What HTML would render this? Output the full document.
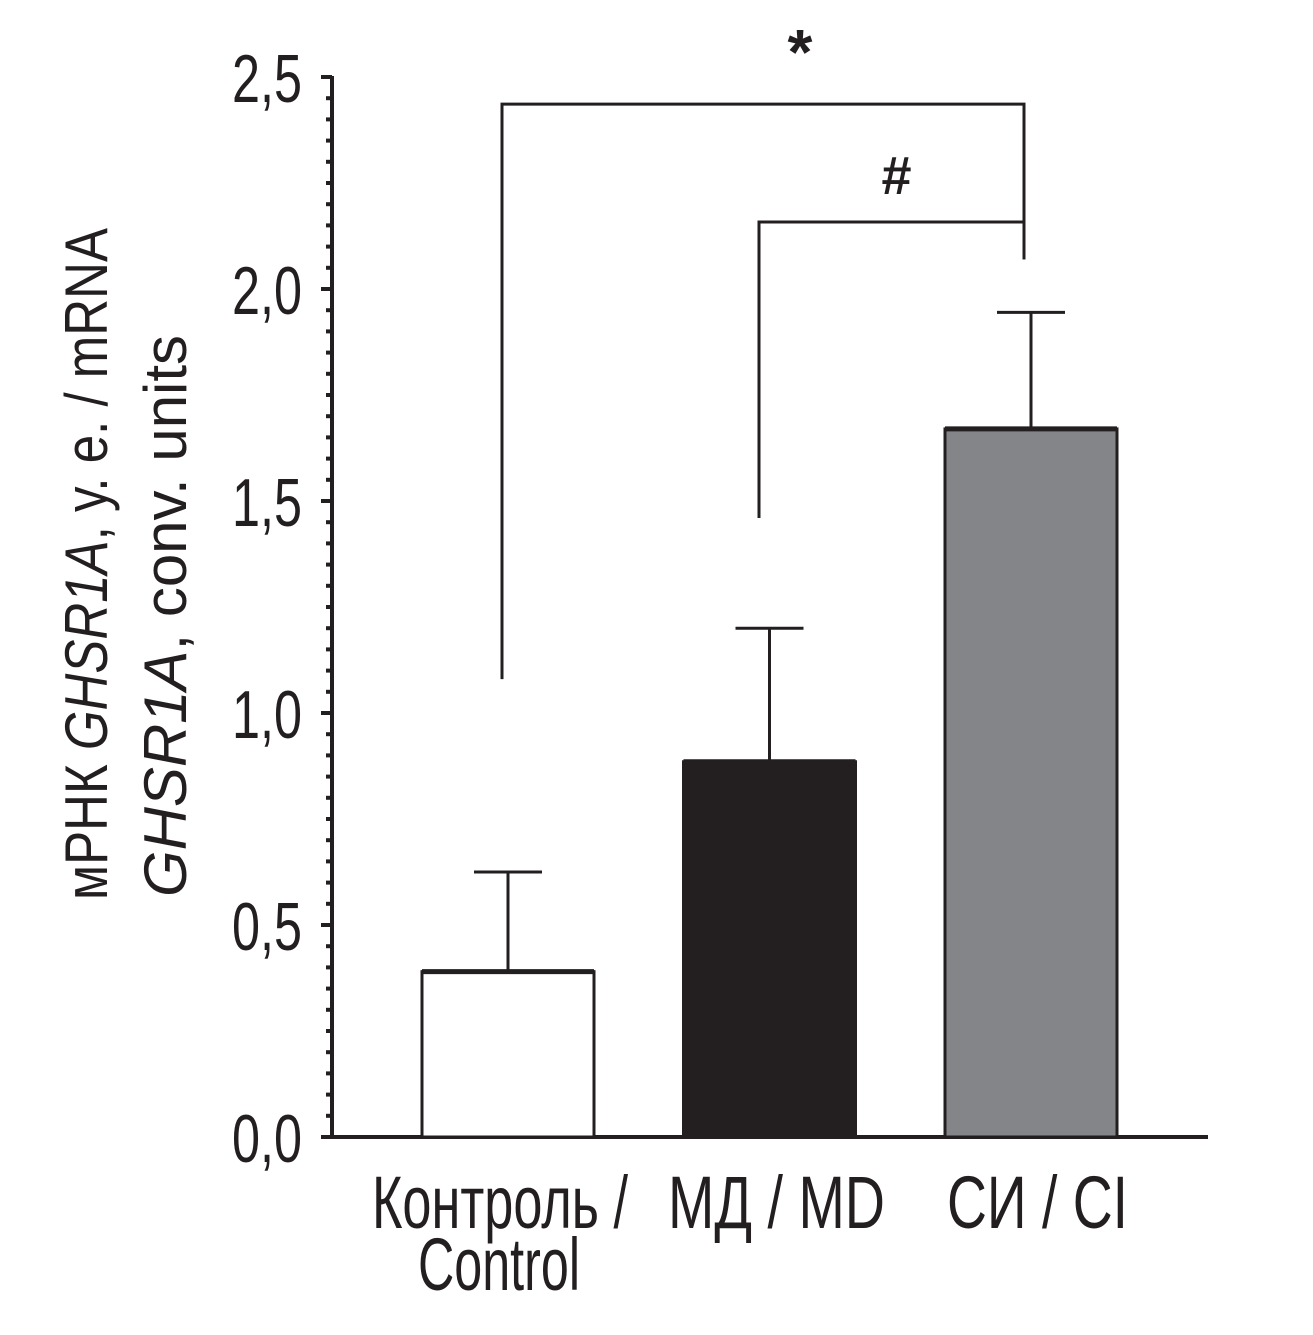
<!DOCTYPE html>
<html><head><meta charset="utf-8"><style>
html,body{margin:0;padding:0;background:#fff;}
svg{display:block;}
text{font-family:"Liberation Sans","DejaVu Sans",sans-serif;fill:#231f20;}
</style></head><body>
<svg id="chart" width="1313" height="1335" viewBox="0 0 1313 1335" xmlns="http://www.w3.org/2000/svg">
<g id="axes"></g>
<g id="bars"></g>
<g id="sig"></g>
<g id="ytitle">
<text transform="translate(107,900) rotate(-90)" font-size="60" textLength="672" lengthAdjust="spacingAndGlyphs">мРНК <tspan font-style="italic">GHSR1A</tspan>, у. е. / mRNA</text>
<text transform="translate(186,897) rotate(-90)" font-size="60" textLength="562" lengthAdjust="spacingAndGlyphs"><tspan font-style="italic">GHSR1A</tspan>, conv. units</text>
</g>
<g id="xlabels">
<text x="372" y="1228" font-size="74" textLength="256" lengthAdjust="spacingAndGlyphs">Контроль /</text>
<text x="418" y="1290" font-size="74" textLength="162" lengthAdjust="spacingAndGlyphs">Control</text>
<text x="668" y="1228" font-size="74" textLength="217" lengthAdjust="spacingAndGlyphs">МД / MD</text>
<text x="947" y="1228" font-size="74" textLength="181" lengthAdjust="spacingAndGlyphs">СИ / CI</text>
</g>
</svg>
<script>
const categories = ["Контроль / Control", "МД / MD", "СИ / CI"];
const means = [0.39, 0.885, 1.67];
const errors = [0.235, 0.315, 0.275];
const fills = ["#ffffff", "#231f20", "#848589"];
const yTicks = [0, 0.5, 1.0, 1.5, 2.0, 2.5];
const yTickLabels = ["0,0", "0,5", "1,0", "1,5", "2,0", "2,5"];
const brackets = [
  {label: "*", from: 0, to: 2, top: 2.436, leftEnd: 1.08, rightEnd: 2.07},
  {label: "#", from: 1, to: 2, top: 2.158, leftEnd: 1.46, rightEnd: 2.07}
];

const NS = "http://www.w3.org/2000/svg";
const y0 = 1137, pxPerUnit = 424;
function yScale(v){ return y0 - v * pxPerUnit; }
const barStart = 422, barStep = 261.5, barWidth = 172;
function xLeft(i){ return barStart + i * barStep; }
function xCenter(i){ return xLeft(i) + barWidth / 2; }
function mk(tag, attrs, parent){
  const e = document.createElementNS(NS, tag);
  for (const k in attrs) e.setAttribute(k, attrs[k]);
  parent.appendChild(e);
  return e;
}
const C = "#231f20";
const axes = document.getElementById("axes");
let yl = mk("line", {x1:332, y1:yScale(2.5)-1, x2:332, y2:y0+2, stroke:C, "stroke-width":4}, axes);


let xl = mk("line", {x1:322, y1:y0, x2:1208, y2:y0, stroke:C, "stroke-width":4}, axes);


for (let k = 0; k <= 50; k++) {
  const v = k * 0.05;
  const major = (k % 10 === 0);
  const t = mk("line", {x1: major ? 321 : 326, y1: yScale(v), x2: 332, y2: yScale(v), stroke:C, "stroke-width":4}, axes);
  
  
}
yTicks.forEach((v, i) => {
  const t = mk("text", {x:302, y: yScale(v) + 25, "font-size":68, "text-anchor":"end", textLength:70, lengthAdjust:"spacingAndGlyphs"}, axes);
  t.textContent = yTickLabels[i];
  
  
});
const bars = document.getElementById("bars");
means.forEach((m, i) => {
  const cx = xCenter(i);
  const eb = mk("path", {d:`M${cx},${yScale(m)} V${yScale(m+errors[i])} M${cx-34},${yScale(m+errors[i])} H${cx+34}`, stroke:C, "stroke-width":3, fill:"none"}, bars);
  
  
  const r = mk("rect", {x: xLeft(i), y: yScale(m), width: barWidth, height: y0 - yScale(m), fill: fills[i], stroke: C, "stroke-width": 3}, bars);
  
  
  const cap = mk("line", {x1:xLeft(i), y1:yScale(m), x2:xLeft(i)+barWidth, y2:yScale(m), stroke:C, "stroke-width":5}, bars);
  
  
});
const sig = document.getElementById("sig");
brackets.forEach(b => {
  const xa = b.from === 0 ? 502 : 759;
  const xb = 1024;
  const p = mk("path", {d:`M${xa},${yScale(b.leftEnd)} V${yScale(b.top)} H${xb} V${yScale(b.rightEnd)}`, stroke:C, "stroke-width":3, fill:"none"}, sig);
  
  
  const t = mk("text", {x:(xa+xb)/2 + (b.from===0?37:5), y: yScale(b.top) - (b.from===0?30:28), "font-size": b.from===0?64:54, "font-weight":"bold", "text-anchor":"middle", "font-family":"Liberation Serif, serif"}, sig);
  t.textContent = b.label;
  
  
});
</script>
</body></html>
